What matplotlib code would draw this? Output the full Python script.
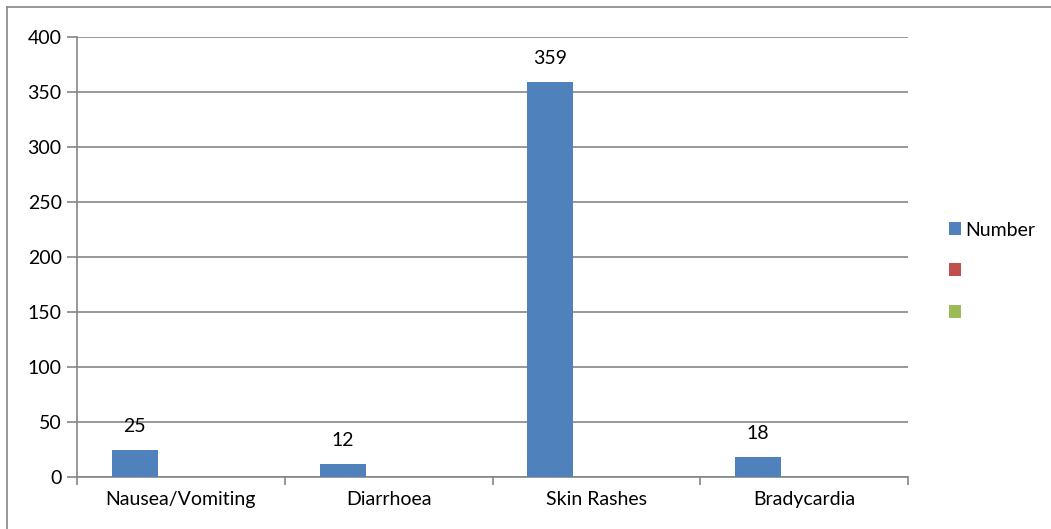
import matplotlib
matplotlib.use("Agg")
import matplotlib.pyplot as plt
from matplotlib.patches import Patch
from matplotlib.lines import Line2D
import numpy as np

categories = ["Nausea/Vomiting", "Diarrhoea", "Skin Rashes", "Bradycardia"]
number_values = [25, 12, 359, 18]
series_names = ["Number", "", ""]
series_colors = ["#4F81BD", "#C0504D", "#9BBB59"]
y_ticks = [0, 50, 100, 150, 200, 250, 300, 350, 400]

plt.rcParams['font.family'] = ['Lato', 'DejaVu Sans']
FS = 14

W, H = 1051, 529
fig = plt.figure(figsize=(W / 100, H / 100), dpi=100)
ax = fig.add_axes([77 / W, 1 - 477 / H, (908 - 77) / W, (477 - 37) / H])

grid_c = "#868686"
x = np.arange(len(categories))
w = 46 / 207.75
bars = ax.bar(x - w, number_values, width=w, color=series_colors[0], zorder=3)
for b, v in zip(bars, number_values):
    ax.annotate(str(v), (b.get_x() + b.get_width() / 2, v), xytext=(0, 15),
                textcoords="offset pixels", ha="center", va="bottom", fontsize=FS, color="#000000")

ax.set_xlim(-0.5, len(categories) - 0.5)
ax.set_ylim(0, 400)
ax.set_yticks(y_ticks)
ax.set_yticklabels([str(t) for t in y_ticks], fontsize=FS)
ax.yaxis.grid(True, color=grid_c, linewidth=1.2, zorder=0)
ax.set_xticks(np.arange(-0.5, len(categories), 1.0))
ax.set_xticklabels([])
ax.set_xticks(x, minor=True)
ax.set_xticklabels(categories, minor=True, fontsize=FS)
ax.tick_params(axis="x", which="minor", length=0, pad=10)
ax.tick_params(axis="x", which="major", length=6, color=grid_c, width=1.2)
ax.tick_params(axis="y", length=7, color=grid_c, width=1.2, pad=4)
for s in ["top", "right"]:
    ax.spines[s].set_visible(False)
for s in ["left", "bottom"]:
    ax.spines[s].set_color(grid_c)
    ax.spines[s].set_linewidth(1.2)

handles = [Patch(facecolor=c, edgecolor="none") for c in series_colors]
leg = fig.legend(handles, series_names, loc="upper left", bbox_to_anchor=(931 / W, 1 - 204 / H),
                 frameon=False, fontsize=FS, handlelength=0.65, handleheight=0.65,
                 handletextpad=0.2, labelspacing=1.25)

fig.add_artist(Line2D([7 / W, 7 / W], [0, 1 - 7 / H], color=grid_c, linewidth=1.2))
fig.add_artist(Line2D([7 / W, 1], [1 - 7 / H, 1 - 7 / H], color=grid_c, linewidth=1.2))

fig.savefig("out.png", dpi=100)
